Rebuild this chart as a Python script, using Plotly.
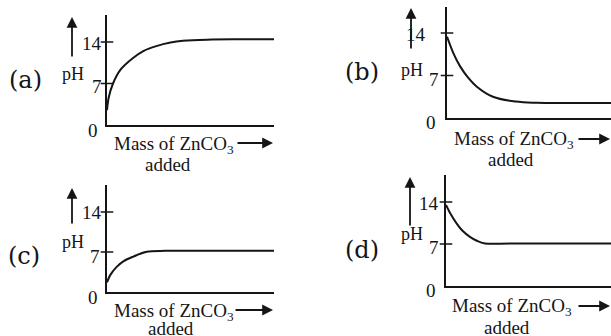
import plotly.graph_objects as go

W, H = 611, 336

# ---- data ----
panel_labels = ["(a)", "(b)", "(c)", "(d)"]
y_tick_values = [0, 7, 14]
y_tick_labels = ["0", "7", "14"]
y_axis_title = "pH"
x_axis_title = "Mass of ZnCO<sub>3</sub>"
x_axis_title2 = "added"

mass_a = [0, 0.01, 0.036, 0.08, 0.156, 0.22, 0.295, 0.38, 0.455, 0.6, 0.8, 1.0]
ph_a = [2.5, 4.6, 7.0, 9.3, 11.3, 12.5, 13.3, 13.9, 14.2, 14.4, 14.45, 14.45]

mass_b = [0, 0.04, 0.08, 0.13, 0.18, 0.28, 0.42, 0.55, 0.7, 1.0]
ph_b = [13.4, 10.6, 8.5, 6.6, 5.2, 3.5, 2.7, 2.5, 2.45, 2.45]

mass_c = [0, 0.02, 0.058, 0.1, 0.158, 0.238, 0.35, 0.6, 1.0]
ph_c = [1.7, 3.0, 4.4, 5.4, 6.2, 7.05, 7.2, 7.2, 7.2]

mass_d = [0, 0.03, 0.065, 0.1, 0.145, 0.19, 0.236, 0.4, 1.0]
ph_d = [13.5, 11.9, 10.4, 9.2, 8.2, 7.5, 7.1, 7.1, 7.1]

curves = [(mass_a, ph_a), (mass_b, ph_b), (mass_c, ph_c), (mass_d, ph_d)]

# ---- layout geometry (pixels) ----
geo = [
    dict(x0=107, x1=274, y0=125, y14=42, ytop=15,
         lab=(25, 80), ph=(73, 74), arr=(72, 58, 17), tick_r=(100, 104, 104),
         tick_y=(131, 87, 43), mass=(112, 145), marr=(236, 273, 143), added=(168, 164)),
    dict(x0=447, x1=611, y0=118, y14=33, ytop=7,
         lab=(362, 72), ph=(412, 70), arr=(411, 50, 8), tick_r=(438, 441, 428),
         tick_y=(122, 79, 35), mass=(452, 140), marr=(577, 612, 139), added=(511, 159)),
    dict(x0=107, x1=274, y0=292, y14=212, ytop=185,
         lab=(24, 256), ph=(73, 242), arr=(72, 225, 188), tick_r=(100, 102, 104),
         tick_y=(297, 256, 212), mass=(112, 312), marr=(234, 273, 310), added=(171, 328)),
    dict(x0=446, x1=611, y0=286, y14=202, ytop=175,
         lab=(362, 250), ph=(412, 234), arr=(410, 227, 177), tick_r=(438, 441, 441),
         tick_y=(290, 247, 203), mass=(450, 307), marr=(577, 612, 306), added=(507, 327)),
]

def px(x):
    return x / W

def py(y):
    return 1 - y / H

INK = "#151515"
SERIF = "Liberation Serif"

fig = go.Figure()
layout = dict(width=W, height=H, margin=dict(l=0, r=0, t=0, b=0),
              paper_bgcolor="white", plot_bgcolor="rgba(0,0,0,0)",
              showlegend=False, annotations=[])

def text_ann(text, x, y, size, family=SERIF, xanchor="center"):
    return dict(text=text, x=px(x), y=py(y), xref="paper", yref="paper",
                xanchor=xanchor, yanchor="middle", showarrow=False,
                font=dict(family=family, size=size, color=INK))

for i, (g, (mx, ph)) in enumerate(zip(geo, curves)):
    n = "" if i == 0 else str(i + 1)
    xa, ya = "x" + n, "y" + n
    ymax = 14 * (g["y0"] - g["ytop"]) / (g["y0"] - g["y14"])
    layout["xaxis" + n] = dict(domain=[px(g["x0"]), min(px(g["x1"]), 1)], range=[0, 1],
                               anchor=ya, showline=True, linecolor=INK, linewidth=2,
                               showgrid=False, zeroline=False, showticklabels=False, ticks="")
    layout["yaxis" + n] = dict(domain=[py(g["y0"]), py(g["ytop"])], range=[0, ymax],
                               anchor=xa, showline=True, linecolor=INK, linewidth=2,
                               showgrid=False, zeroline=False, showticklabels=False, ticks="")
    fig.add_trace(go.Scatter(x=mx, y=ph, mode="lines", xaxis=xa, yaxis=ya,
                             line=dict(color=INK, width=2, shape="spline", smoothing=1.0),
                             cliponaxis=False, hoverinfo="skip"))
    fig.add_trace(go.Scatter(x=[0, 0], y=y_tick_values[1:], mode="markers", xaxis=xa, yaxis=ya,
                             marker=dict(symbol="line-ew", size=9,
                                         line=dict(color=INK, width=1.5)),
                             cliponaxis=False, hoverinfo="skip"))
    ann = layout["annotations"]
    ann.append(text_ann(panel_labels[i], *g["lab"], 24, family="DejaVu Serif"))
    ann.append(text_ann(y_axis_title, *g["ph"], 18))
    ax_, ay0, ay1 = g["arr"]
    ann.append(dict(text="", x=px(ax_), y=py(ay1), ax=0, ay=ay0 - ay1,
                    xref="paper", yref="paper", axref="pixel", ayref="pixel",
                    showarrow=True, arrowhead=2, arrowsize=1.2, arrowwidth=1.8,
                    arrowcolor=INK))
    for tl, tr, ty in zip(y_tick_labels, g["tick_r"], g["tick_y"]):
        ann.append(text_ann(tl, tr, ty, 19, xanchor="right"))
    ann.append(text_ann(x_axis_title, *g["mass"], 19, xanchor="left"))
    m0, m1, my = g["marr"]
    ann.append(dict(text="", x=px(m1), y=py(my), ax=m0 - m1, ay=0,
                    xref="paper", yref="paper", axref="pixel", ayref="pixel",
                    showarrow=True, arrowhead=2, arrowsize=1.2, arrowwidth=1.8,
                    arrowcolor=INK))
    ann.append(text_ann(x_axis_title2, *g["added"], 19))

fig.update_layout(**layout)
fig.write_html("out.html", config={"displayModeBar": False},
               post_script="document.body.style.margin='0';document.body.style.overflow='hidden';")
